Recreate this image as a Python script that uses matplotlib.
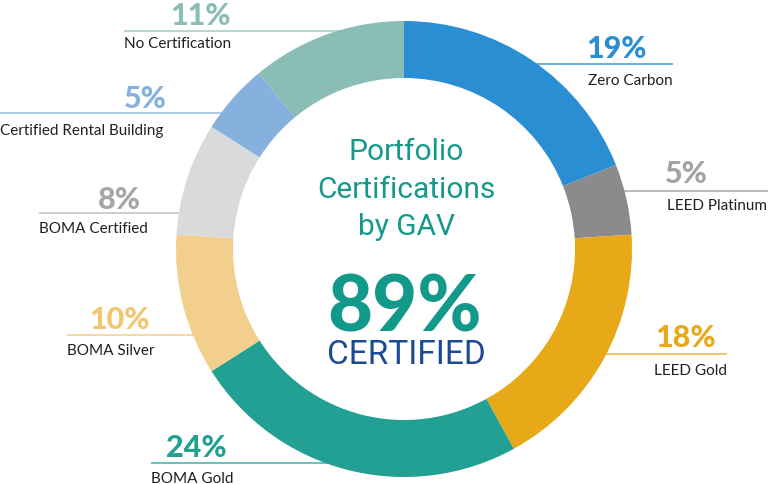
import numpy as np
import matplotlib
matplotlib.use("Agg")
import matplotlib.pyplot as plt
import matplotlib.font_manager as fm

# data
names = ['Zero Carbon', 'LEED Platinum', 'LEED Gold', 'BOMA Gold',
         'BOMA Silver', 'BOMA Certified', 'Certified Rental Building',
         'No Certification']
shares = [19, 5, 18, 24, 10, 8, 5, 11]
ring_colors = ['#2A8ED3', '#8B8B8D', '#E8A918', '#21A093',
               '#F2CF8C', '#D9DADB', '#86B1DE', '#8BBDB7']
pct_colors = ['#2A8ED3', '#A3A3A5', '#E8A918', '#21A093',
              '#F2C56F', '#A6A6A8', '#86B1DE', '#8BBDB7']
line_colors = ['#4FA3DB', '#ADADAF', '#EDBC50', '#4DB6AB',
               '#F4D293', '#C6C6C8', '#9FC2E6', '#A6CFC9']
certified_total = '89%'

# layout in pixels (from top-left): side, label x, percent x, line free end, pct baseline, line y, label baseline
layout = {
    'Zero Carbon':               ('R', 673, 586, 673, 58, 65, 85),
    'LEED Platinum':             ('R', 767, 665, 768, 183, 192, 210),
    'LEED Gold':                 ('R', 727, 655, 727, 347, 355, 375),
    'BOMA Gold':                 ('L', 151, 227, 151, 457, 464, 483),
    'BOMA Silver':               ('L', 67, 150, 67, 329, 336, 355),
    'BOMA Certified':            ('L', 39, 141, 39, 209, 214, 233),
    'Certified Rental Building': ('L', 0, 167, 0, 108, 114, 135),
    'No Certification':          ('L', 124, 231, 124, 25, 32, 48),
}

W, H = 768, 485
cx, cy, R, ring_w = 404, 250, 228, 57

fig = plt.figure(figsize=(W / 100, H / 100), dpi=100)
ax = fig.add_axes([0, 0, 1, 1])

ax.pie(shares, colors=ring_colors, radius=R, center=(cx, cy),
       startangle=-90, counterclock=True,
       wedgeprops=dict(width=ring_w, linewidth=0), frame=True)
ax.set_xlim(0, W)
ax.set_ylim(H, 0)
ax.set_aspect('equal')
ax.axis('off')

r_mid = R - ring_w / 2
for name, share, pc, lc in zip(names, shares, pct_colors, line_colors):
    side, lx, px, free_x, pct_y, line_y, lab_y = layout[name]
    dy = line_y - cy
    dx = np.sqrt(max(r_mid ** 2 - dy ** 2, 0))
    ring_x = cx - dx if side == 'L' else cx + dx
    ax.plot([free_x, ring_x], [line_y, line_y], color=lc, lw=1.2, zorder=0,
            solid_capstyle='butt')
    ax.text(lx, lab_y, name, ha='right' if side == 'R' else 'left',
            va='baseline', fontsize=11, family='Lato', color='#231F20')
    ax.text(px, pct_y, f'{share}%', ha='left' if side == 'R' else 'right',
            va='baseline', fontsize=22, family='Lato', fontweight='black',
            color=pc)

# centre text
title_lines = ['Portfolio', 'Certifications', 'by GAV']
title_y = [160, 198, 235]
for t, y in zip(title_lines, title_y):
    ax.text(cx + 2, y, t, ha='center', va='baseline', fontsize=21.5,
            family='Roboto', color='#15998B')
ax.text(cx + 1, 332, certified_total, ha='center', va='baseline', fontsize=56,
        family='Lato', fontweight='black', color='#13998A')
ax.text(cx + 2, 364, 'CERTIFIED', ha='center', va='baseline', fontsize=24,
        family='Roboto', color='#1B4A94')

fig.savefig('out.png', dpi=100)
